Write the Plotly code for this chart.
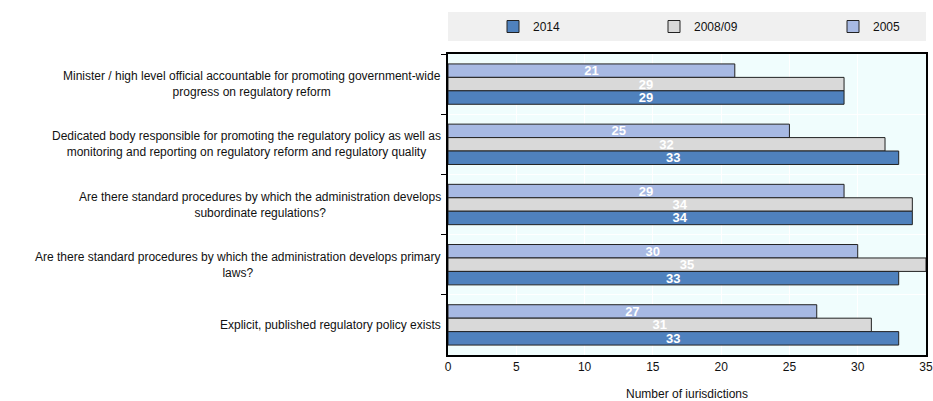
import plotly.graph_objects as go

categories = [
    "Minister / high level official accountable for promoting government-wide<br>progress on regulatory reform",
    "Dedicated body responsible for promoting the regulatory policy as well as<br>monitoring and reporting on regulatory reform and regulatory quality",
    "Are there standard procedures by which the administration develops<br>subordinate regulations?",
    "Are there standard procedures by which the administration develops primary<br>laws?",
    "Explicit, published regulatory policy exists",
]
series_names = ["2005", "2008/09", "2014"]
values_2005 = [21, 25, 29, 30, 27]
values_2008 = [29, 32, 34, 35, 31]
values_2014 = [29, 33, 34, 33, 33]
series_values = [values_2005, values_2008, values_2014]
colors = ["#a7b9e3", "#d9d9d9", "#4f81bd"]
legend_ids = ["legend3", "legend2", "legend"]
x_ticks = [0, 5, 10, 15, 20, 25, 30, 35]

fig = go.Figure()
for name, vals, col, lg in zip(series_names, series_values, colors, legend_ids):
    fig.add_trace(go.Bar(
        y=categories, x=vals, name=name, orientation="h", legend=lg, showlegend=True,
        marker=dict(color=col, line=dict(color="#222222", width=1)),
        text=[f"<b>{v}</b>" for v in vals], textposition="inside",
        insidetextanchor="middle", textangle=0,
        textfont=dict(color="white", size=13, family="Liberation Sans Narrow, Arial Narrow, Liberation Sans"),
        cliponaxis=False,
    ))

L, R, T, B = 448, 7, 54, 46
W = 933 - L - R
H = 401 - T - B

def py(px):
    return 1 + (T - px) / H

def pxx(px):
    return (px - L) / W

fig.add_shape(type="rect", xref="paper", yref="paper", x0=0, x1=1,
              y0=py(41), y1=py(12), fillcolor="#f0f0f0", line=dict(width=0), layer="below")

for c in categories:
    fig.add_annotation(x=0, xref="paper", y=c, yref="y", text=c, showarrow=False,
                       xanchor="right", align="center", xshift=-5,
                       font=dict(size=12, color="#111111", family="Liberation Sans, Arial"))

def leg(xpx):
    return dict(orientation="h", x=pxx(xpx), xanchor="left",
                y=py(26.5), yanchor="middle", bgcolor="rgba(0,0,0,0)",
                font=dict(size=12, family="Liberation Sans, Arial", color="#111111"))

fig.update_layout(
    width=933, height=401,
    margin=dict(l=L, r=R, t=T, b=B, autoexpand=False),
    showlegend=True,
    barmode="group", bargap=0.33, bargroupgap=0,
    plot_bgcolor="#f0fdfd", paper_bgcolor="white",
    font=dict(family="Liberation Sans, Arial", size=12, color="#111111"),
    uniformtext=dict(minsize=8, mode="show"),
    legend=leg(493), legend2=leg(654), legend3=leg(833),
    xaxis=dict(range=[0, 35], tickvals=x_ticks, showgrid=True, gridcolor="white", gridwidth=1,
               showline=True, linecolor="black", linewidth=1.5, mirror=True,
               ticks="", zeroline=False, automargin=False,
               title=dict(text="Number of iurisdictions", font=dict(size=12), standoff=20)),
    yaxis=dict(categoryorder="array", categoryarray=categories, autorange="reversed",
               showticklabels=False, tickson="boundaries", ticks="outside", ticklen=5,
               tickcolor="black", showgrid=True, gridcolor="white", automargin=False,
               showline=True, linecolor="black", linewidth=1.5, mirror=True),
)

fig.write_html("out.html")
